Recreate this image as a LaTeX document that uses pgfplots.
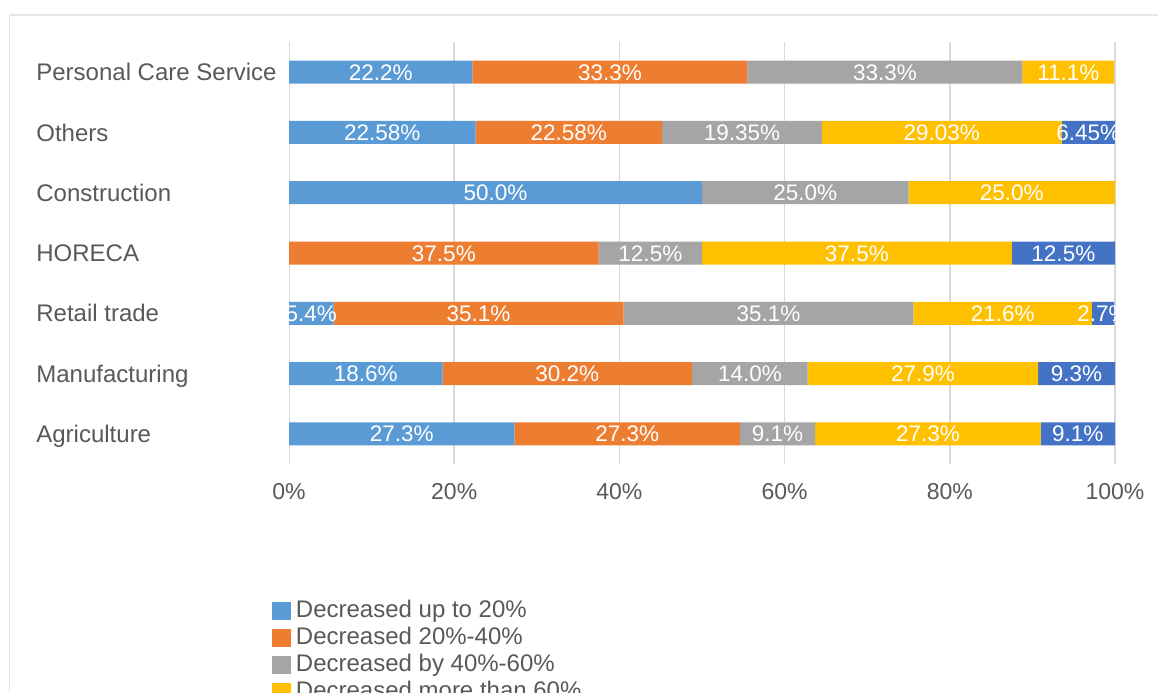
\documentclass[border=0pt]{standalone}
\usepackage{pgfplots}
\pgfplotsset{compat=1.18}
\usepackage{pgfplotstable}
\usepackage{fontspec}
\setmainfont{Liberation Sans}
\definecolor{cA}{HTML}{5B9BD5}
\definecolor{cB}{HTML}{ED7D31}
\definecolor{cC}{HTML}{A5A5A5}
\definecolor{cD}{HTML}{FFC000}
\definecolor{cE}{HTML}{4472C4}
\definecolor{tc}{HTML}{595959}
\definecolor{gridc}{HTML}{D9D9D9}
\definecolor{framec}{HTML}{E6E6E6}
% y: 0 Agriculture ... 6 Personal Care Service
\pgfplotstableread{
y v lab
0 27.3 27.3
1 18.6 18.6
2 5.4 5.4
3 0 0
4 50.0 50.0
5 22.58 22.58
6 22.2 22.2
}\sA
\pgfplotstableread{
y v lab
0 27.3 27.3
1 30.2 30.2
2 35.1 35.1
3 37.5 37.5
4 0 0
5 22.58 22.58
6 33.3 33.3
}\sB
\pgfplotstableread{
y v lab
0 9.1 9.1
1 14.0 14.0
2 35.1 35.1
3 12.5 12.5
4 25.0 25.0
5 19.35 19.35
6 33.3 33.3
}\sC
\pgfplotstableread{
y v lab
0 27.3 27.3
1 27.9 27.9
2 21.6 21.6
3 37.5 37.5
4 25.0 25.0
5 29.03 29.03
6 11.1 11.1
}\sD
\pgfplotstableread{
y v lab
0 9.0 9.1
1 9.3 9.3
2 2.7 2.7
3 12.5 12.5
4 0 0
5 6.45 6.45
6 0 0
}\sE
\pgfplotsset{
  myleg/.style={legend image code/.code={%
    \fill[##1] (0pt,-4.5pt) rectangle (9.5pt,4.5pt);
    \path (0pt,0pt) -- (12pt,0pt);}},
}
\begin{document}
\begin{tikzpicture}
\clip (0,0) rectangle (579pt,-346pt);
\fill[white] (0,0) rectangle (579pt,-346pt);
\draw[line width=0.8pt, framec] (4.75pt,-346pt) -- (4.75pt,-7.5pt) -- (579pt,-7.5pt);
\begin{axis}[
  at={(144.5pt,-232pt)}, anchor=south west,
  scale only axis, width=413pt, height=211pt,
  xbar stacked, bar width=11.5pt,
  xmin=0, xmax=100, ymin=-0.5, ymax=6.5,
  enlargelimits=false,
  ytick={0,...,6},
  yticklabels={Agriculture,Manufacturing,Retail trade,HORECA,Construction,Others,Personal Care Service},
  xtick={0,20,40,60,80,100},
  xticklabels={0\%,20\%,40\%,60\%,80\%,100\%},
  xmajorgrids, major grid style={gridc, line width=0.7pt},
  axis line style={draw=none}, major tick length=0pt, tick style={draw=none},
  yticklabel style={anchor=west, xshift=-126.5pt, inner sep=0pt, text height=8.6pt, text depth=0pt,
     font=\fontsize{12}{14}\selectfont, text=tc},
  xticklabel style={anchor=center, yshift=-14pt, inner sep=0pt, font=\fontsize{11.5}{14}\selectfont, text=tc},
  point meta=explicit symbolic,
  nodes near coords={\ifdim\pgfplotspointmeta pt>0pt \pgfplotspointmeta\%\fi},
  every node near coord/.append style={anchor=center, text=white, inner sep=0pt,
     text height=8.1pt, text depth=0pt, font=\fontsize{11.25}{13}\selectfont},
  legend style={at={(-0.0206,-0.3246)}, anchor=north west, draw=none, fill=none,
     inner sep=0pt, outer sep=0pt, font=\fontsize{12}{14}\selectfont, text=tc,
     row sep=3pt, nodes={inner sep=0pt, text height=8.3pt, text depth=2.2pt, anchor=west}},
  legend cell align=left,
  myleg,
]
\addplot[fill=cA, draw=none, myleg] table[x=v, y=y, meta=lab] {\sA};
\addplot[fill=cB, draw=none, myleg] table[x=v, y=y, meta=lab] {\sB};
\addplot[fill=cC, draw=none, myleg] table[x=v, y=y, meta=lab] {\sC};
\addplot[fill=cD, draw=none, myleg] table[x=v, y=y, meta=lab] {\sD};
\addplot[fill=cE, draw=none, myleg] table[x=v, y=y, meta=lab] {\sE};
\legend{Decreased up to 20\%, Decreased 20\%-40\%, Decreased by 40\%-60\%, Decreased more than 60\%, Not decreased}
\end{axis}
% white margins outside the plot box, as the labels there are cut at the box
\fill[white] (139pt,-20pt) rectangle (144.3pt,-232pt);
\fill[white] (557.8pt,-20pt) rectangle (579pt,-232pt);
\end{tikzpicture}
\end{document}
